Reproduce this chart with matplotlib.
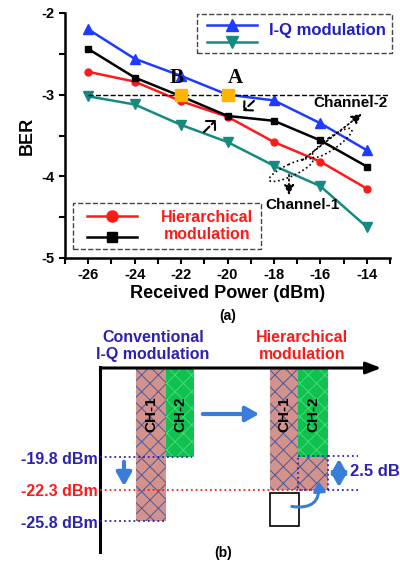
import numpy as np
import matplotlib.pyplot as plt
from matplotlib.patches import Rectangle, Ellipse

plt.rcParams['font.family'] = ['Liberation Sans', 'DejaVu Sans']
plt.rcParams['font.weight'] = 'bold'
plt.rcParams['axes.labelweight'] = 'bold'
plt.rcParams['axes.unicode_minus'] = False
plt.rcParams['hatch.linewidth'] = 0.7

# (a) BER vs received power
power = [-26, -24, -22, -20, -18, -16, -14]
iq_ch2 = [-2.20, -2.56, -2.77, -3.00, -3.07, -3.35, -3.68]
iq_ch1 = [-3.02, -3.12, -3.37, -3.58, -3.87, -4.12, -4.62]
hier_ch2 = [-2.44, -2.79, -3.02, -3.26, -3.32, -3.56, -3.88]
hier_ch1 = [-2.72, -2.84, -3.08, -3.27, -3.58, -3.82, -4.15]
ber_limit = -3
marked_x = [-22, -20]
marked_names = ['B', 'A']

# (b) power budget diagram
level_dbm = [-19.8, -22.3, -25.8]
level_txt = ['-19.8 dBm', '-22.3 dBm', '-25.8 dBm']
gain_txt = '2.5 dB'

c_blue = '#1f3bff'
c_teal = '#168a80'
c_red = '#ff1a1a'
c_text_blue = '#2b22b0'
c_arrow = '#3a7dd8'
c_pink = '#d4928c'
c_hatch = '#4a5a9a'
c_green = '#10c050'
c_green_h = '#45dc72'

fig = plt.figure(figsize=(4, 5.63), dpi=100)
ax = fig.add_axes([65/400, 1-258/563, 325/400, 245/563])
ax.set_facecolor('none')

ax.plot(power, iq_ch2, color=c_blue, marker='^', ms=7, lw=1.8)
ax.plot(power, iq_ch1, color=c_teal, marker='v', ms=7, lw=1.8)
ax.plot(power, hier_ch1, color=c_red, marker='o', ms=5, lw=1.8)
ax.plot(power, hier_ch2, color='black', marker='s', ms=4.5, lw=1.8)
ax.plot([-26, -13], [ber_limit, ber_limit], color='black', ls='--', lw=1.0)
ax.plot(marked_x, [ber_limit] * len(marked_x), ls='none', marker='s', ms=8,
        color='#ffb400', zorder=5)
for x, name in zip(marked_x, marked_names):
    ax.annotate(name, (x, ber_limit), xytext=(-3 if name == 'B' else 6, 5),
                textcoords='offset points', ha='center', va='bottom',
                fontsize=15, family='Liberation Serif', weight='bold')

ax.set_xlim(-27, -13)
ax.set_ylim(-5, -2)
ax.set_xticks(range(-26, -13, 2))
ax.set_xticks(range(-27, -12), minor=True)
ax.set_yticks([-5, -4, -3, -2])
ax.set_yticks([-4.5, -3.5, -2.5], minor=True)
ax.tick_params(which='both', direction='out', length=4, width=1.5, labelsize=10.5)
for lab in ax.get_xticklabels() + ax.get_yticklabels():
    lab.set_fontweight('bold')
for s in ['top', 'right']:
    ax.spines[s].set_visible(False)
for s in ['left', 'bottom']:
    ax.spines[s].set_linewidth(1.8)
ax.set_xlabel('Received Power (dBm)', fontsize=13, labelpad=2, weight='bold')
ax.set_ylabel('BER', fontsize=13, labelpad=4, weight='bold')

# legend boxes drawn by hand
tr = ax.transAxes
ax.add_patch(Rectangle((0.406, 0.837), 0.6, 0.159, transform=tr, fill=False,
                       ls='--', lw=1.0, ec='#444444', clip_on=False))
ax.plot([0.437, 0.591], [0.951, 0.951], transform=tr, color=c_blue, lw=1.8, clip_on=False)
ax.plot([0.514], [0.951], transform=tr, color=c_blue, marker='^', ms=8, clip_on=False)
ax.plot([0.437, 0.591], [0.882, 0.882], transform=tr, color=c_teal, lw=1.8, clip_on=False)
ax.plot([0.514], [0.882], transform=tr, color=c_teal, marker='v', ms=8, clip_on=False)
ax.text(0.809, 0.927, 'I-Q modulation', transform=tr, ha='center', va='center',
        color='#2020c0', fontsize=12)

ax.add_patch(Rectangle((0.025, 0.037), 0.578, 0.187, transform=tr, fill=False,
                       ls='--', lw=1.0, ec='#444444'))
ax.plot([0.068, 0.222], [0.171, 0.171], transform=tr, color=c_red, lw=1.8)
ax.plot([0.145], [0.171], transform=tr, color=c_red, marker='o', ms=8)
ax.plot([0.068, 0.222], [0.086, 0.086], transform=tr, color='black', lw=1.8)
ax.plot([0.145], [0.086], transform=tr, color='black', marker='s', ms=7)
ax.text(0.437, 0.129, 'Hierarchical\nmodulation', transform=tr, ha='center',
        va='center', color=c_red, fontsize=11.5, linespacing=1.15)

# overlay in pixel coordinates for annotations and panel (b)
ov = fig.add_axes([0, 0, 1, 1], zorder=5)
ov.set_xlim(0, 400)
ov.set_ylim(563, 0)
ov.axis('off')

dash_head = dict(arrowstyle='->,head_length=0.45,head_width=0.45', ls='--',
                 lw=1.5, color='black')
ov.annotate('', xy=(218, 118), xytext=(202, 134), arrowprops=dash_head)
ov.annotate('', xy=(241, 113), xytext=(256, 99), arrowprops=dash_head)

ov.add_patch(Ellipse((332, 143), 48, 12, angle=-35, fill=False, ls=':', lw=1.2))
ov.annotate('', xy=(364, 112), xytext=(300, 162),
            arrowprops=dict(arrowstyle='-|>,head_length=0.6,head_width=0.3',
                            ls=':', lw=1.2, color='black'))
ov.text(351, 103, 'Channel-2', ha='center', va='center', fontsize=11)

ov.add_patch(Ellipse((291, 170), 48, 12, angle=-25, fill=False, ls=':', lw=1.2))
ov.annotate('', xy=(289, 198), xytext=(289, 172),
            arrowprops=dict(arrowstyle='-|>,head_length=0.6,head_width=0.3',
                            ls=':', lw=1.2, color='black'))
ov.text(302, 205, 'Channel-1', ha='center', va='center', fontsize=11)

ov.text(228, 316, '(a)', ha='center', va='center', fontsize=10)

# ---- (b) ----
ytop = 368
lvl_y = np.interp(level_dbm, [-25.8, -22.3, -19.8], [521, 490, 457])
y_hi, y_mid, y_lo = lvl_y

ov.plot([100, 100], [ytop - 1, 552], color='black', lw=2.2)
ov.annotate('', xy=(384, ytop), xytext=(99, ytop),
            arrowprops=dict(arrowstyle='-|>,head_length=0.9,head_width=0.35',
                            color='black', lw=2.2))


def hatched(x0, x1, y0, y1, face, hcol):
    ov.add_patch(Rectangle((x0, y0), x1 - x0, y1 - y0, facecolor=face,
                           edgecolor=hcol, hatch='xx', lw=0, zorder=2))


hatched(136, 166, ytop + 1, y_lo, c_pink, c_hatch)
hatched(166, 194, ytop + 1, y_hi, c_green, c_green_h)
hatched(270, 298, ytop + 1, y_mid, c_pink, c_hatch)
hatched(298, 328, ytop + 1, y_hi, c_green, c_green_h)
hatched(298, 328, y_hi, y_mid, c_pink, c_hatch)
ov.add_patch(Rectangle((298, y_hi - 1), 30, y_mid - y_hi + 1, fill=False,
                       ls=':', lw=1.3, ec=c_text_blue, zorder=3))
ov.add_patch(Rectangle((270, y_mid + 3), 29, y_mid - y_hi, facecolor='white',
                       ec='black', lw=1.2, zorder=3))

for xc, name in [(151, 'CH-1'), (180, 'CH-2'), (284, 'CH-1'), (313, 'CH-2')]:
    ov.text(xc, 414, name, rotation=90, ha='center', va='center', fontsize=11,
            zorder=4)

ov.plot([100, 192], [y_hi, y_hi], ls=':', lw=1.3, color=c_text_blue, zorder=3)
ov.plot([100, 318], [y_mid, y_mid], ls=':', lw=1.3, color=c_red, zorder=3)
ov.plot([100, 166], [y_lo, y_lo], ls=':', lw=1.3, color=c_text_blue, zorder=3)
ov.plot([328, 358], [y_hi - 1, y_hi - 1], ls=':', lw=1.3, color=c_text_blue, zorder=3)
ov.plot([318, 358], [y_mid, y_mid], ls=':', lw=1.3, color=c_text_blue, zorder=3)

for y, txt, col in zip(lvl_y, level_txt, [c_text_blue, c_red, c_text_blue]):
    ov.text(98, y + 2, txt, ha='right', va='center', color=col, fontsize=11.5)

ov.text(153, 346, 'Conventional\nI-Q modulation', ha='center', va='center',
        color=c_text_blue, fontsize=11.5, linespacing=1.1)
ov.text(302, 346, 'Hierarchical\nmodulation', ha='center', va='center',
        color=c_red, fontsize=11.5, linespacing=1.1)

blue_arrow = dict(arrowstyle='-|>,head_length=0.8,head_width=0.45',
                  color=c_arrow, lw=3)
ov.annotate('', xy=(262, 414), xytext=(200, 414), arrowprops=blue_arrow)
ov.annotate('', xy=(124, y_mid - 1), xytext=(124, y_hi + 2), arrowprops=blue_arrow)
ov.annotate('', xy=(339, y_mid), xytext=(339, y_hi - 1),
            arrowprops=dict(arrowstyle='<|-|>,head_length=0.8,head_width=0.45',
                            color=c_arrow, lw=3))
ov.annotate('', xy=(318, 478), xytext=(289, 506),
            arrowprops=dict(arrowstyle='-|>,head_length=0.6,head_width=0.35',
                            color=c_arrow, lw=2.2,
                            connectionstyle='arc3,rad=0.7'), zorder=5)
ov.text(350, 472, gain_txt, ha='left', va='center', color=c_text_blue, fontsize=12)

ov.text(223, 553, '(b)', ha='center', va='center', fontsize=10)

fig.savefig('out.png', dpi=100)
